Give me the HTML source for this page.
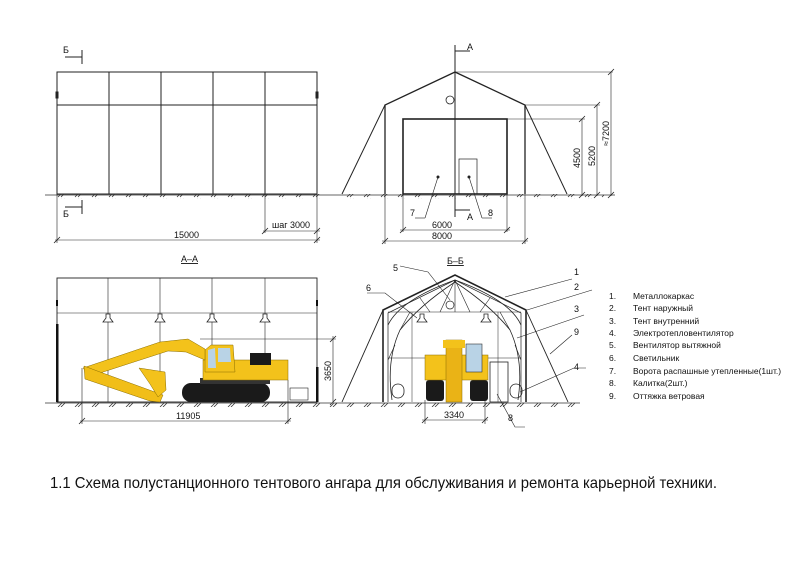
<!DOCTYPE html>
<html><head><meta charset="utf-8"><style>
html,body{margin:0;padding:0;background:#fff;width:800px;height:565px;overflow:hidden}
svg{display:block}
text{font-family:"Liberation Sans Narrow","Liberation Sans",sans-serif;fill:#111}
</style></head><body>
<svg width="800" height="565" viewBox="0 0 800 565" xmlns="http://www.w3.org/2000/svg">
<defs>
<pattern id="hatch" width="17" height="6" patternUnits="userSpaceOnUse" x="6">
<path d="M1,5 L5,1 M4,5 L8,1" stroke="#333" stroke-width="0.8"/>
</pattern>
</defs>
<g stroke="#222" fill="none" stroke-width="1">
<!-- TOP LEFT -->
<rect x="57" y="72" width="260" height="122"/>
<line x1="57" y1="105" x2="317" y2="105"/>
<line x1="109" y1="72" x2="109" y2="194"/><line x1="161" y1="72" x2="161" y2="194"/>
<line x1="213" y1="72" x2="213" y2="194"/><line x1="265" y1="72" x2="265" y2="194"/>
<line x1="45" y1="195" x2="325" y2="195" stroke="#666"/>
<rect x="49" y="194" width="272" height="5" fill="url(#hatch)" stroke="none"/>
<line x1="65" y1="57" x2="82" y2="57"/><line x1="82" y1="50" x2="82" y2="64"/>
<line x1="65" y1="207" x2="82" y2="207"/><line x1="82" y1="200" x2="82" y2="214"/>
<line x1="57" y1="194" x2="57" y2="243" stroke-width="0.6"/><line x1="317" y1="194" x2="317" y2="243" stroke-width="0.6"/>
<line x1="265" y1="194" x2="265" y2="233" stroke-width="0.6"/>
<line x1="55" y1="240" x2="320" y2="240" stroke-width="0.6"/>
<line x1="263" y1="231" x2="320" y2="231" stroke-width="0.6"/>
<path d="M54,243 L60,237 M314,243 L320,237 M262,234 L268,228 M314,234 L320,228" stroke-width="0.8"/>
<rect x="56" y="92" width="2" height="6" fill="#222"/><rect x="316" y="92" width="2" height="6" fill="#222"/>

<!-- TOP RIGHT -->
<path d="M385,194 L385,105 L455,72 L525,105 L525,194" stroke-width="1.3"/>
<line x1="385" y1="105" x2="342" y2="194"/><line x1="525" y1="105" x2="567" y2="194"/>
<rect x="403" y="119" width="104" height="75" stroke-width="1.6"/>
<rect x="459" y="159" width="18" height="35" stroke-width="0.7"/>
<line x1="455" y1="45" x2="455" y2="217"/>
<line x1="455" y1="51" x2="470" y2="51"/><line x1="455" y1="210" x2="470" y2="210"/>
<circle cx="450" cy="100" r="4" stroke-width="0.8"/>
<line x1="320" y1="195" x2="615" y2="195" stroke="#666"/>
<rect x="339" y="194" width="265" height="5" fill="url(#hatch)" stroke="none"/>
<g stroke-width="0.6">
<line x1="455" y1="72" x2="613" y2="72"/><line x1="525" y1="105" x2="600" y2="105"/><line x1="507" y1="119" x2="585" y2="119"/>
<line x1="582" y1="119" x2="582" y2="196"/><line x1="597" y1="105" x2="597" y2="196"/><line x1="611" y1="72" x2="611" y2="196"/>
<line x1="385" y1="194" x2="385" y2="244"/><line x1="525" y1="194" x2="525" y2="244"/>
<line x1="403" y1="194" x2="403" y2="232"/><line x1="507" y1="194" x2="507" y2="232"/>
<line x1="400" y1="230" x2="510" y2="230"/><line x1="382" y1="241" x2="528" y2="241"/>
<line x1="438" y1="177" x2="425" y2="218"/><line x1="415" y1="218" x2="425" y2="218"/>
<line x1="469" y1="177" x2="482" y2="218"/><line x1="482" y1="218" x2="492" y2="218"/>
</g>
<path d="M400,233 L406,227 M504,233 L510,227 M382,244 L388,238 M522,244 L528,238 M579,122 L585,116 M594,108 L600,102 M608,75 L614,69 M579,198 L585,192 M594,198 L600,192 M608,198 L614,192" stroke-width="0.8"/>
<circle cx="438" cy="177" r="1" fill="#222"/><circle cx="469" cy="177" r="1" fill="#222"/>

<!-- BOTTOM LEFT -->
<rect x="57" y="278" width="260" height="124" stroke-width="0.9"/>
<line x1="57" y1="313" x2="317" y2="313" stroke-width="0.6"/>
<g stroke-width="0.6">
<line x1="108" y1="278" x2="108" y2="402"/><line x1="160" y1="278" x2="160" y2="402"/>
<line x1="212" y1="278" x2="212" y2="360"/><line x1="265" y1="278" x2="265" y2="360"/>
</g>
<rect x="56" y="324" width="2.5" height="78" fill="#111" stroke="none"/>
<rect x="316" y="367" width="2.5" height="35" fill="#111" stroke="none"/>
<rect x="56" y="300" width="2" height="6" fill="#111" stroke="none"/><rect x="316" y="300" width="2" height="6" fill="#111" stroke="none"/>
<line x1="45" y1="403" x2="340" y2="403" stroke="#666"/>
<rect x="49" y="402" width="290" height="5" fill="url(#hatch)" stroke="none"/>
<g stroke-width="0.6">
<line x1="82" y1="368" x2="82" y2="424"/><line x1="288" y1="380" x2="288" y2="424"/>
<line x1="80" y1="421" x2="291" y2="421"/>
<line x1="200" y1="339" x2="336" y2="339"/><line x1="333" y1="336" x2="333" y2="404"/>
<rect x="290" y="388" width="18" height="12"/>
</g>
<path d="M79,424 L85,418 M285,424 L291,418 M330,342 L336,336 M330,405 L336,399" stroke-width="0.8"/>
</g>
<!-- lamps -->
<g fill="#fff" stroke="#222" stroke-width="0.8">
<path d="M106,314 h4 v4 l3,4 h-10 l3,-4z"/><path d="M158,314 h4 v4 l3,4 h-10 l3,-4z"/>
<path d="M210,314 h4 v4 l3,4 h-10 l3,-4z"/><path d="M263,314 h4 v4 l3,4 h-10 l3,-4z"/>
<path d="M420,314 h4 v4 l3,4 h-10 l3,-4z"/><path d="M484,314 h4 v4 l3,4 h-10 l3,-4z"/>
</g>
<!-- excavator side -->
<rect x="182" y="383" width="88" height="19" rx="9" fill="#1a1a1a"/>
<rect x="200" y="378" width="70" height="6" fill="#333"/>
<rect x="203" y="360" width="85" height="20" fill="#f3c21b" stroke="#8a6d00" stroke-width="0.5"/>
<rect x="250" y="353" width="21" height="12" fill="#1a1a1a"/>
<path d="M205,372 L205,350 L211,345 L233,345 L235,372 Z" fill="#f3c21b" stroke="#8a6d00" stroke-width="0.5"/>
<path d="M208,350 L215,348 L216,368 L208,368 Z M218,348 L230,348 L231,362 L218,362 Z" fill="#b9d3e6"/>
<path d="M83,368 L160,342 L188,339 L205,349 L205,360 L186,352 L168,351 L100,373 L91,378 Z" fill="#f3c21b" stroke="#8a6d00" stroke-width="0.5"/>
<path d="M84,366 L100,372 L163,395 L160,402 L150,401 L85,379 Z" fill="#f1be18" stroke="#8a6d00" stroke-width="0.5"/>
<path d="M139,368 L165,372 L166,390 L158,397 L150,384 Z" fill="#f3c21b" stroke="#8a6d00" stroke-width="0.5"/>
<!-- BOTTOM RIGHT -->
<g stroke="#222" fill="none" stroke-width="0.9">
<path d="M383,402 L383,310 L455,275 L526,310 L526,402" stroke-width="1.6"/>
<path d="M388,402 L388,313 L455,280 L521,313 L521,402" stroke-width="0.7"/>
<line x1="383" y1="310" x2="342" y2="402"/><line x1="526" y1="310" x2="568" y2="402"/>
<path d="M388,325 Q400,300 455,280 Q510,300 521,325 M392,400 Q386,360 400,330 Q420,305 455,282 Q490,305 510,330 Q524,360 518,400" stroke-width="0.8"/>
<path d="M455,280 L440,312 M455,280 L470,312 M455,280 L455,312 M420,298 L430,312 M490,298 L480,312 M400,330 L410,312 M510,330 L500,312 M395,345 L388,360 M515,345 L521,360" stroke-width="0.6"/>
<line x1="388" y1="312" x2="521" y2="312" stroke-width="0.5"/>
<line x1="388" y1="358" x2="521" y2="358" stroke-width="0.5"/>
<line x1="412" y1="312" x2="412" y2="402" stroke-width="0.5"/><line x1="498" y1="312" x2="498" y2="402" stroke-width="0.5"/>
<circle cx="450" cy="305" r="4" stroke-width="0.7"/>
<rect x="490" y="362" width="18" height="40" stroke-width="0.8"/>
<rect x="392" y="384" width="12" height="14" rx="6" stroke-width="0.8"/>
<rect x="510" y="384" width="12" height="14" rx="6" stroke-width="0.8"/>
<line x1="330" y1="403" x2="580" y2="403" stroke="#666"/>
<rect x="335" y="402" width="240" height="5" fill="url(#hatch)" stroke="none"/>
<g stroke-width="0.6">
<line x1="425" y1="400" x2="425" y2="424"/><line x1="485" y1="400" x2="485" y2="424"/>
<line x1="422" y1="420" x2="488" y2="420"/>
<path d="M400,266 L428,272 L450,300"/><path d="M367,293 L385,293 L417,318"/>
<path d="M572,279 L505,297"/><path d="M592,290 L527,310"/><path d="M584,315 L517,338"/>
<path d="M572,335 L550,354"/><path d="M586,368 L574,368 L520,392"/>
<path d="M497,394 L515,427 L525,427"/>
</g>
<path d="M422,423 L428,417 M482,423 L488,417" stroke-width="0.8"/>
</g>
<!-- excavator front -->
<rect x="426" y="380" width="18" height="21" rx="3" fill="#1a1a1a"/>
<rect x="470" y="380" width="18" height="21" rx="3" fill="#1a1a1a"/>
<rect x="425" y="355" width="63" height="25" fill="#f3c21b" stroke="#8a6d00" stroke-width="0.5"/>
<rect x="466" y="344" width="16" height="28" fill="#b9d3e6" stroke="#333" stroke-width="0.6"/>
<rect x="446" y="340" width="16" height="62" fill="#eab316" stroke="#8a6d00" stroke-width="0.5"/>
<rect x="443" y="340" width="22" height="8" fill="#f3c21b"/>
</svg>
<svg style="position:absolute;left:0;top:0" width="800" height="565">
<g font-size="9">
<text x="63" y="53">Б</text><text x="63" y="217">Б</text>
<text x="467" y="50">А</text><text x="467" y="220">А</text>
<text x="174" y="238">15000</text><text x="272" y="228">шаг 3000</text>
<text x="432" y="228">6000</text><text x="432" y="239">8000</text>
<text x="410" y="216">7</text><text x="488" y="216">8</text>
<text transform="translate(580,168) rotate(-90)">4500</text>
<text transform="translate(595,166) rotate(-90)">5200</text>
<text transform="translate(609,146) rotate(-90)">≈7200</text>
<text x="181" y="262" text-decoration="underline">А–А</text>
<text x="447" y="264" text-decoration="underline">Б–Б</text>
<text x="176" y="419">11905</text>
<text transform="translate(331,381) rotate(-90)">3650</text>
<text x="444" y="418">3340</text>
<text x="393" y="271">5</text><text x="366" y="291">6</text>
<text x="574" y="275">1</text><text x="574" y="290">2</text><text x="574" y="312">3</text>
<text x="574" y="335">9</text><text x="574" y="370">4</text><text x="508" y="421">8</text>
</g>
<g font-size="8.5">
<text x="609" y="299">1.</text><text x="633" y="299">Металлокаркас</text>
<text x="609" y="311">2.</text><text x="633" y="311">Тент наружный</text>
<text x="609" y="324">3.</text><text x="633" y="324">Тент внутренний</text>
<text x="609" y="336">4.</text><text x="633" y="336">Электротепловентилятор</text>
<text x="609" y="348">5.</text><text x="633" y="348">Вентилятор вытяжной</text>
<text x="609" y="361">6.</text><text x="633" y="361">Светильник</text>
<text x="609" y="374">7.</text><text x="633" y="374">Ворота распашные утепленные(1шт.)</text>
<text x="609" y="386">8.</text><text x="633" y="386">Калитка(2шт.)</text>
<text x="609" y="399">9.</text><text x="633" y="399">Оттяжка ветровая</text>
</g>
<text x="50" y="488" font-size="16" textLength="667" lengthAdjust="spacingAndGlyphs">1.1 Схема полустанционного тентового ангара для обслуживания и ремонта карьерной техники.</text>
</svg>
</body></html>
